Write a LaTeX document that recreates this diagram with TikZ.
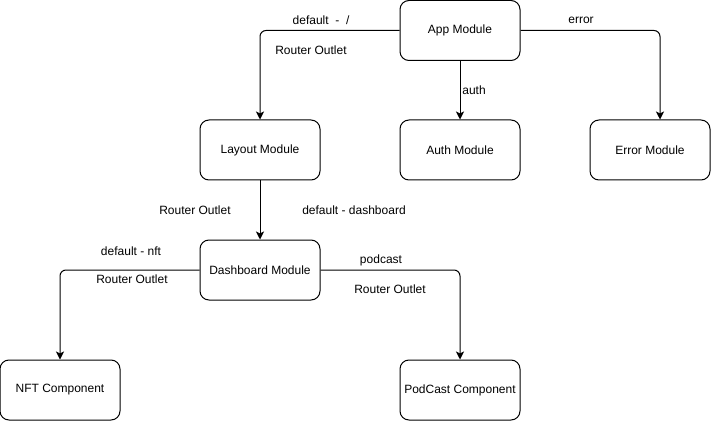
\documentclass[tikz,border=0pt]{standalone}
\usepackage{fontspec}
\setmainfont{Liberation Sans}
\usetikzlibrary{arrows.meta}

\begin{document}
\begin{tikzpicture}[x=1pt,y=-1pt,
    box/.style={draw,line width=1pt,rounded corners=9pt,minimum width=120pt,minimum height=60pt,font=\fontsize{12}{14}\selectfont},
    lbl/.style={font=\fontsize{12}{14}\selectfont,inner sep=0pt},
    link/.style={line width=1pt,rounded corners=6pt,-{Stealth[length=8pt,width=8pt,inset=2pt]}}]
        \useasboundingbox (0,0) rectangle (712,422);
        \node[box] (app) at (460,30.5) {App Module};
        \node[box] (layout) at (260,150) {Layout Module};
        \node[box] (auth) at (460,150) {Auth Module};
        \node[box] (error) at (650,150) {Error Module};
        \node[box] (dash) at (260,270) {Dashboard Module};
        \node[box] (nft) at (60,390) {NFT Component};
        \node[box] (pod) at (460,390) {PodCast Component};
        \draw[link] (app.west) -| (layout.north);
        \draw[link] (app.south) -- (auth.north);
        \draw[link] (app.east) -| ([xshift=10pt]error.north);
        \draw[link] (layout.south) -- (dash.north);
        \draw[link] (dash.west) -| (nft.north);
        \draw[link] (dash.east) -| (pod.north);
        \node[lbl] (l1) at (321,20) {default~~-~~/};
        \node[lbl] (l2) at (311,50) {Router Outlet};
        \node[lbl] (l3) at (474,90) {auth};
        \node[lbl] (l4) at (581,20) {error};
        \node[lbl] (l5) at (195,210) {Router Outlet};
        \node[lbl] (l6) at (354,210) {default - dashboard};
        \node[lbl] (l7) at (131,251) {default - nft};
        \node[lbl] (l8) at (132,279) {Router Outlet};
        \node[lbl] (l9) at (381,260) {podcast};
        \node[lbl] (l10) at (390,289) {Router Outlet};
        \end{tikzpicture}
\end{document}
